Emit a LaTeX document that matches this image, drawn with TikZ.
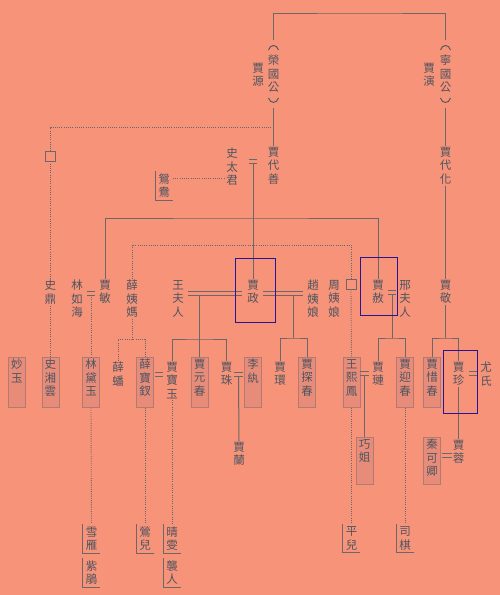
\documentclass[tikz,border=0pt]{standalone}
\usepackage{fontspec}
\newfontfamily\cjk{Noto Sans CJK TC}
\definecolor{bgc}{RGB}{246,147,120}
\definecolor{txt}{RGB}{78,84,96}
\definecolor{lnc}{RGB}{110,102,104}
\definecolor{boxf}{RGB}{232,140,122}
\definecolor{boxd}{RGB}{178,122,114}
\definecolor{blu}{RGB}{40,20,150}
\newcommand\lbox[2]{\parbox[c][#1][t]{13pt}{\centering #2}}
\tikzset{
 nm/.style={font=\cjk\fontsize{11.5}{13.5}\selectfont, text=txt, align=center, inner sep=1pt, anchor=north},
 duke/.style={nm, inner ysep=15pt},
 lady/.style={nm, draw=boxd, fill=boxf, line width=0.6pt, inner sep=2pt, minimum width=17pt},
 maid/.style={nm, inner xsep=3pt, inner ysep=2.5pt},
 ln/.style={draw=lnc, line width=1pt},
 dot/.style={draw=lnc, line width=0.9pt, dash pattern=on 0.9pt off 1.3pt},
 brk/.style={draw=lnc, line width=0.8pt},
 paren/.style={draw=txt, line width=0.9pt},
 eqn/.style={inner sep=0pt, minimum height=3.6pt, minimum width=#1},
 eqn/.default=7pt,
 sq/.style={draw=lnc, line width=0.8pt, fill=bgc, minimum size=10pt, inner sep=0pt},
 bluebox/.style={draw=blu, line width=0.8pt},
}
\newcommand\eqs[3]{\node[eqn=#1] (#2) at (#3) {}; \draw[ln, line width=0.8pt] (#2.north west) -- (#2.north east) (#2.south west) -- (#2.south east);}
\newcommand\vparen[1]{%
 \draw[paren] ([shift={(-5,10)}]#1.north) .. controls +(1.5,-6) and +(-1.5,-6) .. ([shift={(5,10)}]#1.north);
 \draw[paren] ([shift={(-5,-10)}]#1.south) .. controls +(1.5,6) and +(-1.5,6) .. ([shift={(5,-10)}]#1.south);}
\begin{document}
\begin{tikzpicture}[x=1pt,y=-1pt]
\fill[bgc] (0,0) rectangle (500,595);
\useasboundingbox (0,0) rectangle (500,595);
% generation 0
\node[duke] (rongguo) at (273.5,40) {榮\\國\\公};
\vparen{rongguo}
\node[nm] (jiayuan) at (258,62) {賈\\源};
\node[duke] (ningguo) at (445.5,40) {寧\\國\\公};
\vparen{ningguo}
\node[nm] (jiayan) at (429,62) {賈\\演};
\node[nm] (daishan) at (273.5,146) {賈\\代\\善};
\node[nm] (daihua) at (445.5,146) {賈\\代\\化};
\node[nm] (shitaijun) at (232,147) {史\\太\\君};
\node[maid] (yuanyang) at (164,171) {鴛\\鴦};
\eqs{7pt}{m0}{253,161}
\node[sq] (sqa) at (50.5,156) {};
% generation 1
\node[nm] (shiding) at (50.5,279) {史\\鼎};
\node[nm] (linruhai) at (77,279) {林\\如\\海};
\eqs{7pt}{m1}{91,293}
\node[nm] (jiamin) at (105,279) {賈\\敏};
\node[nm] (xueyima) at (132,279) {薛\\姨\\媽};
\node[nm] (wangfuren) at (178,279) {王\\夫\\人};
\eqs{54pt}{m2}{215,293}
\node[nm] (jiazheng) at (253,279) {賈\\政};
\eqs{40pt}{m3}{283,293}
\node[nm] (zhaoyiniang) at (313,279) {趙\\姨\\娘};
\node[nm] (zhouyiniang) at (334,279) {周\\姨\\娘};
\node[sq] (sqb) at (351,284) {};
\node[nm] (jiashe) at (378,279) {賈\\赦};
\eqs{8pt}{m4}{392,292}
\node[nm] (xingfuren) at (405,279) {邢\\夫\\人};
\node[nm] (jiajing) at (445.5,279) {賈\\敬};
% generation 2
\node[lady] (miaoyu) at (17,357) {\lbox{46pt}{妙\\玉}};
\node[lady] (xiangyun) at (50.5,357) {\lbox{46pt}{史\\湘\\雲}};
\node[lady] (daiyu) at (91,357) {\lbox{46pt}{林\\黛\\玉}};
\node[nm] (xuepan) at (118,361) {薛\\蟠};
\node[lady] (baochai) at (145,357) {\lbox{46pt}{薛\\寶\\釵}};
\eqs{8pt}{m5}{159,374}
\node[nm] (baoyu) at (172,361) {賈\\寶\\玉};
\node[lady] (yuanchun) at (199.5,357) {\lbox{46pt}{賈\\元\\春}};
\node[nm] (jiazhu) at (226.5,361) {賈\\珠};
\eqs{9pt}{m6}{238.5,374}
\node[lady] (liwan) at (253,357) {\lbox{46pt}{李\\紈}};
\node[nm] (jiahuan) at (280,361) {賈\\環};
\node[lady] (tanchun) at (307,357) {\lbox{46pt}{賈\\探\\春}};
\node[lady] (xifeng) at (351.5,357) {\lbox{46pt}{王\\熙\\鳳}};
\eqs{8pt}{m7}{364.5,373}
\node[nm] (jialian) at (378,361) {賈\\璉};
\node[lady] (yingchun) at (405,357) {\lbox{46pt}{賈\\迎\\春}};
\node[lady] (xichun) at (432,357) {\lbox{46pt}{賈\\惜\\春}};
\node[nm] (jiazhen) at (458.5,361) {賈\\珍};
\eqs{8pt}{m8}{473,373}
\node[nm] (youshi) at (486,361) {尤\\氏};
% generation 3
\node[nm] (jialan) at (239,441) {賈\\蘭};
\node[lady] (qiaojie) at (364.5,437) {\lbox{43pt}{巧\\姐}};
\node[lady] (qinkeqing) at (432,437) {\lbox{43pt}{秦\\可\\卿}};
\eqs{9pt}{m9}{447,455}
\node[nm] (jiarong) at (458.5,439) {賈\\蓉};
% maids
\node[maid] (xueyan) at (91.5,524) {雪\\雁};
\node[maid] (zijuan) at (91.5,558) {紫\\鵑};
\node[maid] (yinger) at (145,524) {鶯\\兒};
\node[maid] (qingwen) at (172,524) {晴\\雯};
\node[maid] (xiren) at (172,558) {襲\\人};
\node[maid] (pinger) at (351.5,524) {平\\兒};
\node[maid] (siqi) at (405,524) {司\\棋};
% connectors
\coordinate (topbar) at (360,13);
\draw[ln] (rongguo.north) |- (topbar) -| (ningguo.north);
\draw[ln] (rongguo.south) -- (daishan.north);
\draw[ln] (ningguo.south) -- (daihua.north);
\draw[ln] (daihua.south) -- (jiajing.north);
\coordinate (shijn) at (273.5,127);
\draw[dot] (shijn) -| (sqa.north);
\draw[dot] (sqa.south) -- (shiding.north);
\draw[dot] (yuanyang.east |- 0,178) -- (shitaijun.west |- 0,178);
\coordinate (gbar) at (240,218);
\draw[ln] (jiamin.north) |- (gbar) -| (jiashe.north);
\draw[ln] (m0.south) -- (jiazheng.north);
\coordinate (xbar) at (240,245);
\draw[dot] (xueyima.north) |- (xbar) -| (sqb.north);
\draw[dot] (sqb.south) -- (xifeng.north);
\draw[dot] (m1.south) -- (daiyu.north);
\draw[dot] (shiding.south) -- (xiangyun.north);
\coordinate (b0) at (132,339);
\draw[dot] (xueyima.south) -- (b0);
\draw[dot] (xuepan.north) |- (b0) -| (baochai.north);
\coordinate (b1) at (199.5,339);
\draw[ln] (yuanchun.north |- m2.south) -- (yuanchun.north);
\draw[ln] (baoyu.north) |- (b1) -| (jiazhu.north);
\coordinate (b2) at (293,338);
\draw[ln] (b2 |- m3.south) -- (b2);
\draw[ln] (jiahuan.north) |- (b2) -| (tanchun.north);
\coordinate (b3) at (392,338);
\draw[ln] (m4.south) -- (b3);
\draw[ln] (jialian.north) |- (b3) -| (yingchun.north);
\coordinate (b4) at (445.5,338);
\draw[ln] (jiajing.south) -- (b4);
\draw[ln] (xichun.north) |- (b4) -| (jiazhen.north);
\draw[ln] (m6.south) -- (jialan.north);
\draw[ln] (m7.south) -- (qiaojie.north);
\draw[ln] (jiazhen.south) -- (jiarong.north);
\draw[dot] (daiyu.south) -- (xueyan.north);
\draw[dot] (baochai.south) -- (yinger.north);
\draw[dot] (baoyu.south) -- (qingwen.north);
\draw[dot] (xifeng.south) -- (pinger.north);
\draw[dot] (yingchun.south) -- (siqi.north);
\foreach \m in {yuanyang,xueyan,zijuan,yinger,qingwen,xiren,pinger,siqi}
  \draw[brk] (\m.north west) |- (\m.south east);
% highlight boxes
\draw[bluebox] (235,258) rectangle (275,322);
\draw[bluebox] (360,257) rectangle (397,315);
\draw[bluebox] (443,350) rectangle (477,413);
\end{tikzpicture}
\end{document}
